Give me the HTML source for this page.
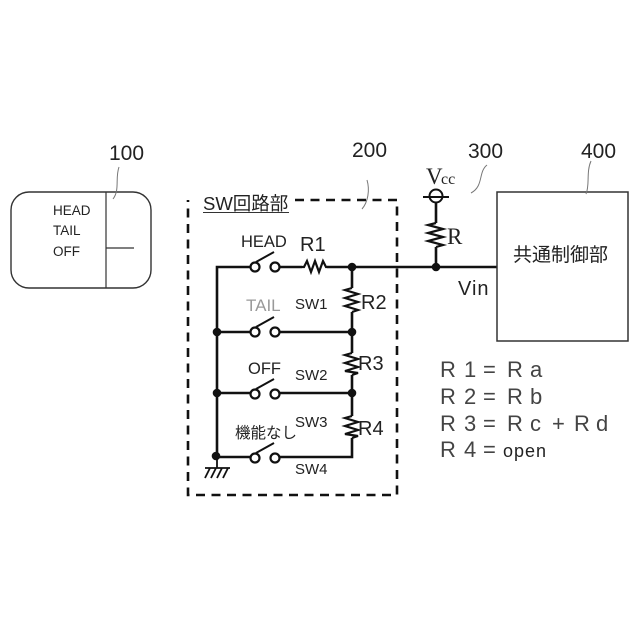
<!DOCTYPE html>
<html><head><meta charset="utf-8"><style>
html,body{margin:0;padding:0;background:#fff}
svg{display:block}
text{font-family:"Liberation Sans","Noto Sans CJK JP",sans-serif;fill:#222}
.s{font-family:"Liberation Serif",serif}
.e{fill:#444;font-size:22px}
</style></head><body>
<svg width="640" height="640" viewBox="0 0 640 640" xmlns="http://www.w3.org/2000/svg">
<rect width="640" height="640" fill="#fff"/>
<!-- 100 -->
<rect x="11" y="192" width="140" height="96" rx="18" fill="none" stroke="#333" stroke-width="1.4"/>
<path d="M106 192V288M106 248H134" fill="none" stroke="#333" stroke-width="1.2"/>
<path d="M119 167C115 178 120 190 113 199" fill="none" stroke="#777" stroke-width="1"/>
<text x="109" y="160" font-size="21">100</text>
<text x="53" y="215" font-size="13.5">HEAD</text>
<text x="53" y="235" font-size="13.5">TAIL</text>
<text x="53" y="256" font-size="13.5">OFF</text>
<!-- 200 -->
<path d="M295 200H397V495H188V200" fill="none" stroke="#111" stroke-width="2.6" stroke-dasharray="9 6.5"/>
<text x="352" y="157" font-size="21">200</text>
<path d="M367 180C370 190 368 202 362 209" fill="none" stroke="#777" stroke-width="1"/>
<text x="203" y="210" font-size="18.5">SW回路部</text>
<path d="M203 212.5H289" stroke="#333" stroke-width="1"/>
<!-- wires -->
<g fill="none" stroke="#111" stroke-width="2.6">
<path d="M497 267H327M302 267H280M250 267H217V457"/>
<path d="M216 332H250M280 332H352"/>
<path d="M216 393H250M280 393H352"/>
<path d="M216 457H250M280 457H352V438"/>
<path d="M352 267V288M352 312V353M352 375V416"/>
<path d="M436 267V247M436 223V203"/>
<path d="M302 267h2l3-6 4 11 4-11 4 11 4-11 3 6h1" stroke-width="2.2"/>
<path d="M352 288l-7 2 13 4-13 4 13 4-13 4 13 4-6 2" stroke-width="2.2"/>
<path d="M352 353l-7 2 13 4-13 4 13 4-13 4 13 2-6 2" stroke-width="2.2"/>
<path d="M352 416l-7 2 13 4-13 4 13 4-13 4 13 2-6 2" stroke-width="2.2"/>
<path d="M436 223l-8 2 15 4-15 4 15 4-15 4 15 4-7 2" stroke-width="2.2"/>
</g>
<!-- switches -->
<g fill="#fff" stroke="#111" stroke-width="2.2">
<circle cx="255" cy="267" r="4.5"/><circle cx="275" cy="267" r="4.5"/>
<circle cx="255" cy="332" r="4.5"/><circle cx="275" cy="332" r="4.5"/>
<circle cx="255" cy="394" r="4.5"/><circle cx="275" cy="394" r="4.5"/>
<circle cx="255" cy="458" r="4.5"/><circle cx="275" cy="458" r="4.5"/>
</g>
<g stroke="#111" stroke-width="2" fill="none">
<path d="M256 262L274 252M256 327L274 317M256 389L274 379M256 453L274 443"/>
</g>
<!-- nodes -->
<g fill="#111">
<circle cx="352" cy="267" r="4.3"/><circle cx="352" cy="332" r="4.3"/><circle cx="352" cy="393" r="4.3"/>
<circle cx="217" cy="332" r="4.3"/><circle cx="217" cy="393" r="4.3"/><circle cx="216" cy="456" r="4.3"/>
<circle cx="436" cy="267" r="4.3"/>
</g>
<!-- ground -->
<path d="M217 457V468M205 468H230M210 468L205 478M216 468L211 478M222 468L217 478M228 468L223 478" fill="none" stroke="#111" stroke-width="1.8"/>
<!-- Vcc -->
<circle cx="436" cy="196" r="6.5" fill="none" stroke="#111" stroke-width="2"/>
<path d="M423 197H449" stroke="#111" stroke-width="2"/>
<text class="s" x="426" y="184" font-size="23">V</text>
<text class="s" x="441" y="184" font-size="16">cc</text>
<text class="s" x="447" y="244" font-size="23">R</text>
<!-- labels -->
<text x="241" y="247" font-size="16.5">HEAD</text>
<text x="300" y="251" font-size="20">R1</text>
<text x="246" y="311" font-size="17" style="fill:#999">TAIL</text>
<text x="295" y="309" font-size="15">SW1</text>
<text x="361" y="309" font-size="20">R2</text>
<text x="248" y="374" font-size="16.5">OFF</text>
<text x="295" y="380" font-size="15">SW2</text>
<text x="358" y="370" font-size="20">R3</text>
<text x="235" y="438" font-size="15.5">機能なし</text>
<text x="295" y="427" font-size="15">SW3</text>
<text x="358" y="435" font-size="20">R4</text>
<text x="295" y="474" font-size="15">SW4</text>
<!-- 300 -->
<text x="468" y="158" font-size="21">300</text>
<path d="M487 165C478 172 484 186 471 193" fill="none" stroke="#777" stroke-width="1"/>
<!-- 400 -->
<rect x="497" y="192" width="131" height="149" fill="#fff" stroke="#333" stroke-width="1.5"/>
<text x="581" y="158" font-size="21">400</text>
<path d="M591 161C586 172 590 185 586 194" fill="none" stroke="#777" stroke-width="1"/>
<text x="513" y="261" font-size="19">共通制御部</text>
<text x="458" y="295" font-size="20" style="letter-spacing:1px">Vin</text>
<!-- equations -->
<text class="e" x="440 464 483 507 530" y="377">R1=Ra</text>
<text class="e" x="440 464 483 507 530" y="404">R2=Rb</text>
<text class="e" x="440 464 483 507 530 552 574 596" y="431">R3=Rc+Rd</text>
<text class="e" x="440 464 483" y="457">R4=</text>
<text x="503" y="457" font-size="18" style="letter-spacing:1px">open</text>
</svg>
</body></html>
